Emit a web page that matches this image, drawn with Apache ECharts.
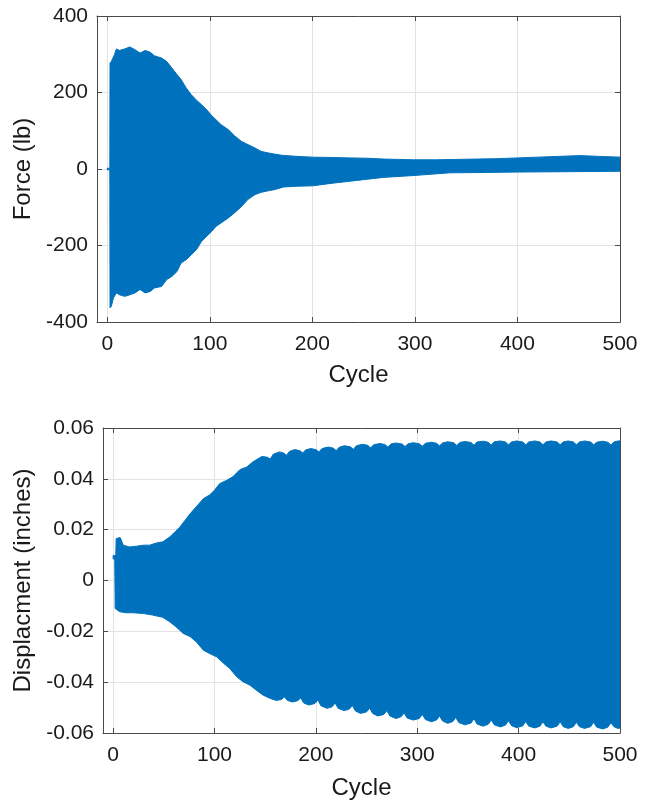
<!DOCTYPE html>
<html>
<head>
<meta charset="utf-8">
<script src="https://cdn.jsdelivr.net/npm/echarts@6/dist/echarts.min.js"></script>
<style>
html,body{margin:0;padding:0;background:#fff;}
#chart{width:650px;height:801px;}
</style>
</head>
<body>
<div id="chart"></div>
<script>
// ---- Data (envelopes of the oscillating signals) ----
const cycleTicks = [0, 100, 200, 300, 400, 500];

const forceUpperCycles = [0, 2.5, 2.7, 4, 7, 9, 12, 17, 22, 27, 32, 37, 42, 46, 53, 58, 63, 68, 72, 77, 82, 87, 92, 97, 102, 106, 111, 118, 124, 131, 137, 144, 150, 157, 163, 170, 185, 200, 220, 237, 255, 269, 285, 299, 320, 340, 360, 380, 400, 420, 440, 461, 480, 500];
const forceUpper = [2, 2, 277, 281, 299, 314, 310, 314, 319, 312, 303, 310, 305, 296, 290, 281, 264, 247, 234, 212, 194, 180, 168, 155, 139, 129, 116, 103, 87, 72, 64, 55, 46, 42, 39, 36, 33, 31, 30, 29, 28, 26, 25, 24, 24, 25, 26, 27, 29, 31, 33, 35, 33, 31];
const forceLowerCycles = [0, 2.5, 2.7, 4, 6, 9, 12, 17, 22, 27, 32, 37, 42, 46, 53, 58, 63, 68, 72, 77, 82, 87, 92, 97, 102, 106, 111, 118, 124, 131, 137, 144, 150, 157, 163, 172, 185, 200, 220, 243, 269, 299, 334, 370, 400, 450, 500];
const forceLower = [-2, -2, -363, -359, -337, -324, -329, -333, -329, -324, -315, -324, -320, -311, -307, -289, -281, -268, -246, -237, -224, -211, -189, -176, -163, -150, -141, -128, -115, -98, -80, -67, -61, -57, -54, -47, -45, -44, -37, -30, -22, -17, -10, -9, -8, -7, -6];
const forceTicks = [-400, -200, 0, 200, 400];

// [cycle, displacement] points along the upper and lower envelopes
const dispUpperPts = [
  [0, 0.0098], [2.6, 0.0098], [3, 0.0165], [7, 0.0169], [10, 0.0139], [16, 0.0132], [23, 0.0135], [30, 0.0139],
  [36, 0.0139], [43, 0.0148], [49, 0.0152], [56, 0.0172], [61, 0.0191], [66, 0.0211], [71, 0.0237], [76, 0.0263],
  [82, 0.0290], [89, 0.0322], [95, 0.0336], [100, 0.0355], [105, 0.0381], [112, 0.0394], [118, 0.0408], [125, 0.0436],
  [132, 0.0447], [138, 0.0467], [145, 0.0484], [147, 0.0488], [152, 0.0485], [155, 0.0478], [158, 0.0497], [164, 0.0506],
  [168, 0.0502], [171, 0.0493], [174, 0.0508], [179, 0.0515], [184, 0.0511], [187, 0.0502], [190, 0.0514], [195, 0.0519],
  [200, 0.0515], [203, 0.0506], [206, 0.0519], [212, 0.0525], [217, 0.0521], [220, 0.0511], [223, 0.0524], [228, 0.0530],
  [234, 0.0526], [237, 0.0516], [240, 0.0530], [246, 0.0536], [251, 0.0532], [254, 0.0522], [257, 0.0534], [263, 0.0539],
  [268, 0.0535], [271, 0.0525], [274, 0.0537], [279, 0.0541], [285, 0.0537], [288, 0.0527], [291, 0.0538], [296, 0.0542],
  [302, 0.0538], [305, 0.0528], [308, 0.0540], [314, 0.0544], [319, 0.0540], [322, 0.0530], [325, 0.0541], [330, 0.0546],
  [336, 0.0542], [339, 0.0531], [342, 0.0543], [347, 0.0547], [353, 0.0543], [356, 0.0532], [359, 0.0545], [365, 0.0548],
  [370, 0.0544], [373, 0.0533], [376, 0.0546], [382, 0.0549], [387, 0.0545], [390, 0.0534], [393, 0.0545], [398, 0.0549],
  [404, 0.0545], [407, 0.0534], [410, 0.0545], [416, 0.0549], [421, 0.0545], [424, 0.0534], [427, 0.0545], [432, 0.0549],
  [438, 0.0545], [441, 0.0534], [444, 0.0545], [449, 0.0549], [454, 0.0545], [457, 0.0534], [460, 0.0545], [465, 0.0549],
  [471, 0.0545], [474, 0.0534], [477, 0.0544], [483, 0.0548], [488, 0.0544], [491, 0.0533], [494, 0.0545], [498, 0.0549],
  [500, 0.0549]
];
const dispLowerPts = [
  [0, 0.0085], [1.6, 0.0085], [2, -0.0110], [3.3, -0.0114], [6.6, -0.0123], [13, -0.0127], [20, -0.0127], [30, -0.0130],
  [39, -0.0136], [49, -0.0145], [56, -0.0163], [62, -0.0182], [69, -0.0208], [76, -0.0221], [82, -0.0241], [89, -0.0274],
  [95, -0.0287], [102, -0.0300], [109, -0.0326], [115, -0.0346], [122, -0.0379], [128, -0.0398], [135, -0.0412], [141, -0.0431],
  [148, -0.0451], [155, -0.0464], [161, -0.0472], [166, -0.0468], [169, -0.0458], [172, -0.0472], [177, -0.0478], [182, -0.0473],
  [185, -0.0462], [188, -0.0482], [193, -0.0490], [199, -0.0484], [202, -0.0470], [205, -0.0493], [211, -0.0503], [216, -0.0497],
  [219, -0.0482], [222, -0.0503], [228, -0.0512], [233, -0.0506], [236, -0.0492], [239, -0.0513], [244, -0.0523], [250, -0.0517],
  [253, -0.0502], [256, -0.0523], [261, -0.0533], [267, -0.0527], [270, -0.0512], [273, -0.0533], [279, -0.0543], [284, -0.0536],
  [287, -0.0521], [290, -0.0541], [296, -0.0549], [302, -0.0543], [305, -0.0527], [308, -0.0547], [314, -0.0556], [319, -0.0549],
  [322, -0.0533], [325, -0.0553], [330, -0.0562], [335, -0.0555], [338, -0.0539], [341, -0.0559], [347, -0.0568], [353, -0.0561],
  [356, -0.0544], [359, -0.0565], [365, -0.0573], [370, -0.0566], [373, -0.0549], [376, -0.0568], [382, -0.0576], [387, -0.0569],
  [390, -0.0552], [393, -0.0571], [398, -0.0579], [404, -0.0572], [407, -0.0555], [410, -0.0573], [416, -0.0580], [421, -0.0573],
  [424, -0.0556], [427, -0.0573], [432, -0.0580], [438, -0.0573], [441, -0.0556], [444, -0.0575], [449, -0.0582], [454, -0.0575],
  [457, -0.0558], [460, -0.0575], [465, -0.0582], [471, -0.0575], [474, -0.0558], [477, -0.0577], [483, -0.0584], [488, -0.0577],
  [491, -0.0560], [494, -0.0575], [498, -0.0582], [500, -0.0580]
];
const dispTicks = [-0.06, -0.04, -0.02, 0, 0.02, 0.04, 0.06];

// ---- Chart ----
const FONT = 'Liberation Sans, Arial, Helvetica, sans-serif';
const BLUE = '#0072BD';
const AXIS = '#4a4a4a';
const TEXT = '#1a1a1a';
const GRIDC = '#e3e3e3';

function bandSeries(upPts, loPts, xi, yi) {
  const pts = upPts.concat(loPts.slice().reverse());
  return {
    type: 'custom', xAxisIndex: xi, yAxisIndex: yi, data: pts,
    silent: true, animation: false, clip: true, z: 3,
    renderItem: function (params, api) {
      if (params.dataIndex !== 0) return null;
      const poly = pts.map(p => api.coord(p));
      return { type: 'polygon', shape: { points: poly },
        style: { fill: BLUE, stroke: BLUE, lineWidth: 1, lineJoin: 'round' } };
    }
  };
}
function zipPts(xs, ys) { return xs.map((x, i) => [x, ys[i]]); }

function xAxisPair(gi, gap) {
  const base = {
    type: 'value', gridIndex: gi, min: -10, max: 500,
    axisLine: { show: true, onZero: false, lineStyle: { color: AXIS, width: 1 } },
    axisTick: { show: true, inside: true, length: 5, customValues: cycleTicks, lineStyle: { color: AXIS } }
  };
  return [
    Object.assign({}, base, {
      position: 'bottom',
      axisLabel: { show: true, customValues: cycleTicks, fontSize: 21, color: TEXT, fontFamily: FONT, margin: 12 },
      splitLine: { show: true, lineStyle: { color: GRIDC, width: 1 } },
      name: 'Cycle', nameLocation: 'middle', nameGap: gap,
      nameTextStyle: { fontSize: 24, color: TEXT, fontFamily: FONT }
    }),
    Object.assign({}, base, {
      position: 'top',
      axisLabel: { show: false },
      splitLine: { show: false }
    })
  ];
}

function yAxisPair(gi, min, max, interval, fmt, name, gap) {
  const base = {
    type: 'value', gridIndex: gi, min: min, max: max, interval: interval,
    axisLine: { show: true, onZero: false, lineStyle: { color: AXIS, width: 1 } },
    axisTick: { show: true, inside: true, length: 5, lineStyle: { color: AXIS } }
  };
  return [
    Object.assign({}, base, {
      position: 'left',
      axisLabel: { show: true, fontSize: 21, color: TEXT, fontFamily: FONT, margin: 9, formatter: fmt },
      splitLine: { show: true, lineStyle: { color: GRIDC, width: 1 } },
      name: name, nameLocation: 'middle', nameRotate: 90, nameGap: gap,
      nameTextStyle: { fontSize: 24, color: TEXT, fontFamily: FONT }
    }),
    Object.assign({}, base, {
      position: 'right',
      axisLabel: { show: false },
      splitLine: { show: false }
    })
  ];
}

const chart = echarts.init(document.getElementById('chart'), null, { renderer: 'canvas' });
chart.setOption({
  backgroundColor: '#ffffff',
  animation: false,
  grid: [
    { left: 97, top: 16, width: 523, height: 306, containLabel: false },
    { left: 103, top: 428, width: 517, height: 305, containLabel: false }
  ],
  xAxis: [].concat(xAxisPair(0, 41), xAxisPair(1, 43)),
  yAxis: [].concat(
    yAxisPair(0, forceTicks[0], forceTicks[forceTicks.length - 1], forceTicks[1] - forceTicks[0],
      v => String(Math.round(v)), 'Force (lb)', 55),
    yAxisPair(1, dispTicks[0], dispTicks[dispTicks.length - 1], 0.02,
      v => (Math.abs(v) < 1e-9 ? '0' : v.toFixed(2)), 'Displacment (inches)', 59)
  ),
  series: [
    bandSeries(zipPts(forceUpperCycles, forceUpper), zipPts(forceLowerCycles, forceLower), 0, 0),
    bandSeries(dispUpperPts, dispLowerPts, 2, 2)
  ]
});
</script>
</body>
</html>
